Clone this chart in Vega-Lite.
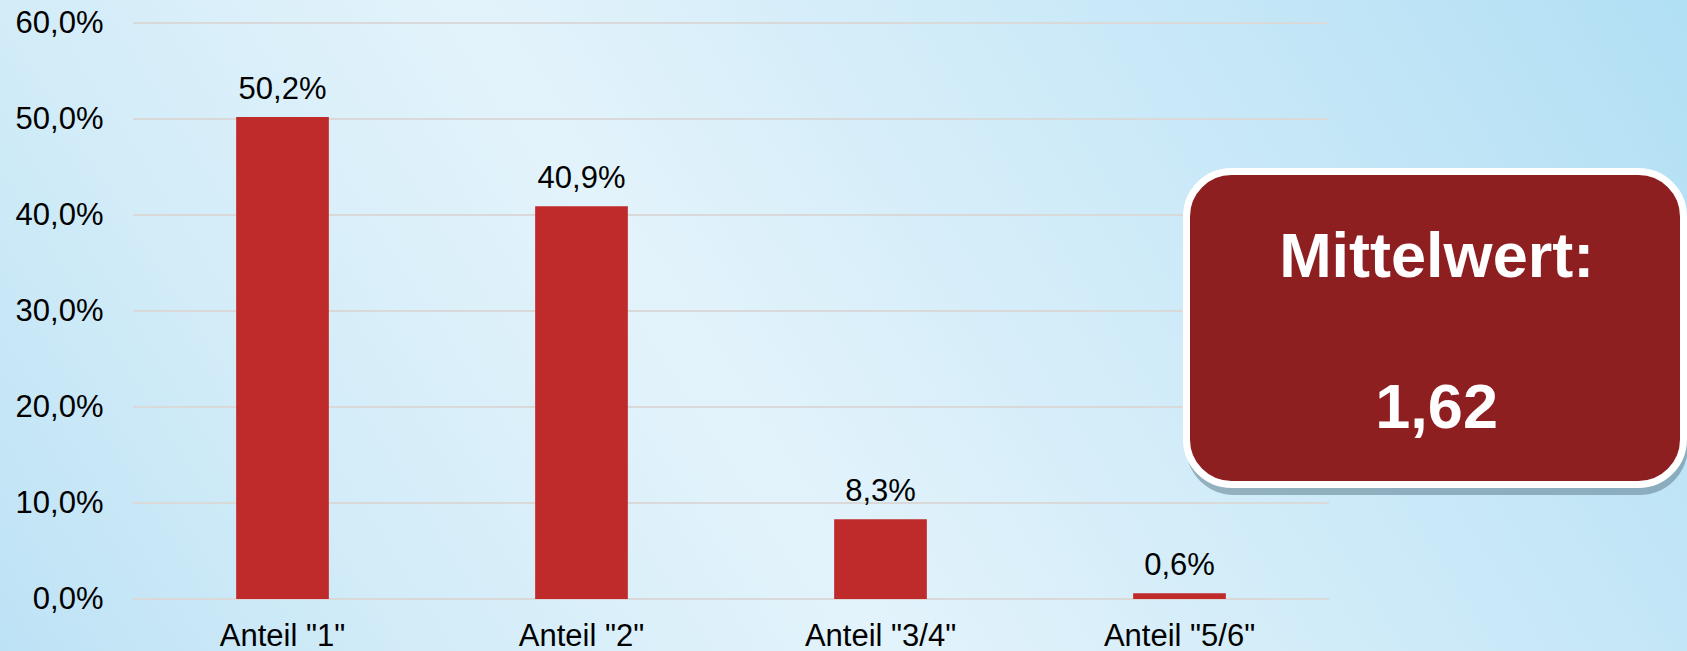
{
  "$schema": "https://vega.github.io/schema/vega-lite/v6.json",
  "width": 1196,
  "height": 576,
  "autosize": {"type": "none"},
  "padding": {"left": 133, "top": 23, "right": 358, "bottom": 52},
  "background": "#cfeaf7",
  "config": {
    "font": "Liberation Sans",
    "view": {"stroke": null},
    "locale": {"number": {"decimal": ",", "thousands": ".", "grouping": [3], "currency": ["", " €"]}}
  },
  "datasets": {
    "anteile": [
      {"kategorie": "Anteil \"1\"", "anteil": 0.502},
      {"kategorie": "Anteil \"2\"", "anteil": 0.409},
      {"kategorie": "Anteil \"3/4\"", "anteil": 0.083},
      {"kategorie": "Anteil \"5/6\"", "anteil": 0.006}
    ],
    "raster": [
      {"wert": 0}, {"wert": 0.1}, {"wert": 0.2}, {"wert": 0.3}, {"wert": 0.4}, {"wert": 0.5}, {"wert": 0.6}
    ]
  },
  "resolve": {"scale": {"x": "independent"}, "axis": {"y": "independent"}},
  "layer": [
    {
      "data": {"values": [{}]},
      "mark": {
        "type": "rect",
        "fill": {
          "gradient": "linear",
          "x1": 0, "y1": 1, "x2": 1.176, "y2": 0.706,
          "stops": [
            {"offset": 0, "color": "#bde2f5"},
            {"offset": 0.2, "color": "#d2ecf8"},
            {"offset": 0.42, "color": "#e3f3fb"},
            {"offset": 0.8, "color": "#c3e6f7"},
            {"offset": 1, "color": "#b1dff4"}
          ]
        }
      },
      "encoding": {
        "x": {"datum": -0.46, "type": "quantitative", "scale": {"domain": [0, 4], "nice": false, "zero": false}, "axis": null},
        "x2": {"datum": 5.21},
        "y": {"datum": -0.06, "type": "quantitative", "scale": {"domain": [0, 0.6], "nice": false}, "axis": null},
        "y2": {"datum": 0.63}
      }
    },
    {
      "data": {"name": "raster"},
      "mark": {"type": "rule", "color": "#d9d9d9", "strokeWidth": 2},
      "encoding": {
        "y": {"field": "wert", "type": "quantitative", "scale": {"domain": [0, 0.6], "nice": false}, "axis": null}
      }
    },
    {
      "data": {"name": "anteile"},
      "encoding": {
        "x": {
          "field": "kategorie", "type": "nominal", "sort": null,
          "scale": {"paddingInner": 0.69, "paddingOuter": 0.345},
          "axis": {"title": null, "labelAngle": 0, "labelFontSize": 31, "labelColor": "#000000", "labelPadding": 46, "labelBaseline": "alphabetic", "ticks": false, "domain": false, "zindex": 1}
        },
        "y": {
          "field": "anteil", "type": "quantitative",
          "scale": {"domain": [0, 0.6], "nice": false},
          "axis": {"title": null, "orient": "left", "format": ".1%", "values": [0, 0.1, 0.2, 0.3, 0.4, 0.5, 0.6], "grid": false, "ticks": false, "domain": false, "labelFontSize": 31, "labelColor": "#000000", "labelPadding": 30, "labelFlush": false, "zindex": 1}
        }
      },
      "layer": [
        {"mark": {"type": "bar", "color": "#BF2A2B"}},
        {
          "mark": {"type": "text", "baseline": "alphabetic", "dy": -18, "fontSize": 31, "color": "#000000"},
          "encoding": {"text": {"field": "anteil", "type": "quantitative", "format": ".1%"}}
        }
      ]
    },
    {
      "data": {"values": [{}]},
      "mark": {"type": "rect", "color": "#5f7f8f", "opacity": 0.55, "cornerRadius": 48},
      "encoding": {
        "x": {"datum": 3.5217, "type": "quantitative", "scale": {"domain": [0, 4], "nice": false, "zero": false}, "axis": null},
        "x2": {"datum": 5.2},
        "y": {"datum": 0.4417, "type": "quantitative", "scale": {"domain": [0, 0.6], "nice": false}, "axis": null},
        "y2": {"datum": 0.1083}
      }
    },
    {
      "data": {"values": [{}]},
      "mark": {"type": "rect", "fill": "#8E1F20", "stroke": "#ffffff", "strokeWidth": 7, "cornerRadius": 45},
      "encoding": {
        "x": {"datum": 3.5234, "type": "quantitative", "scale": {"domain": [0, 4], "nice": false, "zero": false}, "axis": null},
        "x2": {"datum": 5.1856},
        "y": {"datum": 0.4453, "type": "quantitative", "scale": {"domain": [0, 0.6], "nice": false}, "axis": null},
        "y2": {"datum": 0.1193}
      }
    },
    {
      "data": {"values": [{}]},
      "mark": {"type": "text", "fontSize": 63, "fontWeight": "bold", "color": "#ffffff", "align": "center", "baseline": "alphabetic"},
      "encoding": {
        "x": {"datum": 4.36, "type": "quantitative", "scale": {"domain": [0, 4], "nice": false, "zero": false}, "axis": null},
        "y": {"datum": 0.3354, "type": "quantitative", "scale": {"domain": [0, 0.6], "nice": false}, "axis": null},
        "text": {"value": "Mittelwert:"}
      }
    },
    {
      "data": {"values": [{}]},
      "mark": {"type": "text", "fontSize": 63, "fontWeight": "bold", "color": "#ffffff", "align": "center", "baseline": "alphabetic"},
      "encoding": {
        "x": {"datum": 4.36, "type": "quantitative", "scale": {"domain": [0, 4], "nice": false, "zero": false}, "axis": null},
        "y": {"datum": 0.1781, "type": "quantitative", "scale": {"domain": [0, 0.6], "nice": false}, "axis": null},
        "text": {"value": "1,62"}
      }
    }
  ]
}
